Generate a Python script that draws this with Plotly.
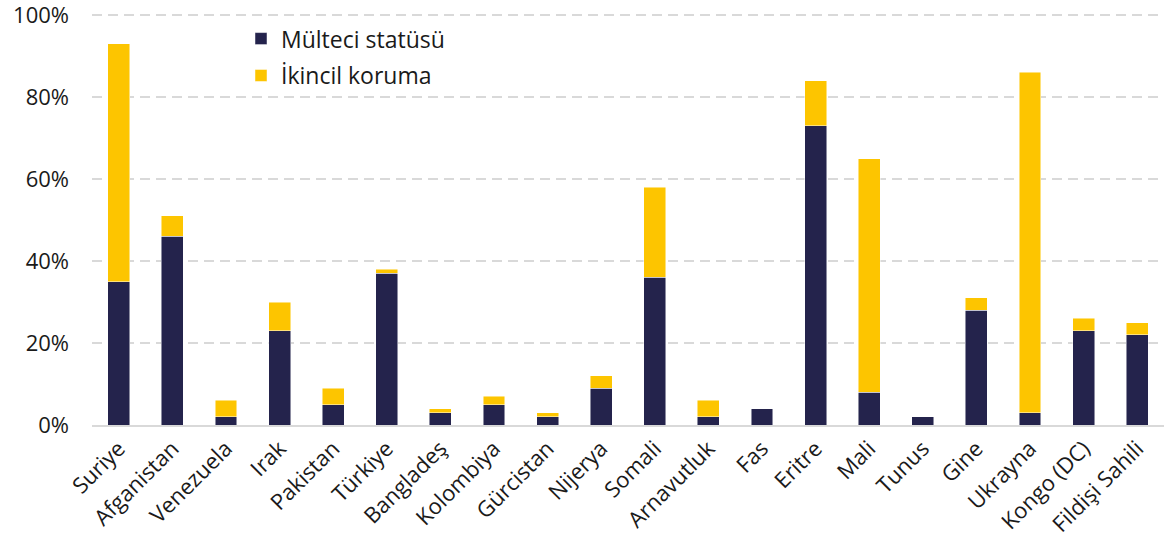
import plotly.graph_objects as go

countries = ["Suriye", "Afganistan", "Venezuela", "Irak", "Pakistan", "Türkiye",
             "Bangladeş", "Kolombiya", "Gürcistan", "Nijerya", "Somali", "Arnavutluk",
             "Fas", "Eritre", "Mali", "Tunus", "Gine", "Ukrayna", "Kongo (DC)", "Fildişi Sahili"]
refugee = [35, 46, 2, 23, 5, 37, 3, 5, 2, 9, 36, 2, 4, 73, 8, 2, 28, 3, 23, 22]
subsidiary = [58, 5, 4, 7, 4, 1, 1, 2, 1, 3, 22, 4, 0, 11, 57, 0, 3, 83, 3, 3]
y_ticks = [0, 20, 40, 60, 80, 100]
y_labels = [f"{v}%" for v in y_ticks]

FONT = "Open Sans"
fig = go.Figure()
fig.add_trace(go.Bar(x=countries, y=refugee, name="Mülteci statüsü", legendgroup="a",
                     marker=dict(color="#24234c", line=dict(color="rgba(255,255,255,0.6)", width=0.8))))
fig.add_trace(go.Bar(x=countries, y=subsidiary, name="İkincil koruma", legendgroup="b",
                     marker=dict(color="#fdc500", line=dict(color="rgba(255,255,255,0.6)", width=0.8))))

fig.update_layout(
    barmode="stack",
    bargap=0.59,
    width=1164, height=547,
    margin=dict(l=92, r=0, t=13, b=122, autoexpand=False),
    paper_bgcolor="white", plot_bgcolor="white",
    font=dict(family=FONT, size=22, color="#1a1a1a"),
    showlegend=True,
    legend=dict(x=0.139, y=0.99, xanchor="left", yanchor="top", font=dict(size=23),
                traceorder="grouped", itemwidth=30, tracegroupgap=4, bgcolor="rgba(0,0,0,0)"),
    xaxis=dict(tickangle=-45, showgrid=False, showline=True, linecolor="#d9d9d9", linewidth=2,
               ticks="", tickfont=dict(size=22), automargin=False),
    yaxis=dict(range=[0, 100.5], tickvals=y_ticks, ticktext=y_labels, showgrid=True, gridcolor="#d9d9d9",
               griddash="10px,6px", gridwidth=2, zeroline=False, showline=False, ticks="",
               tickfont=dict(size=22), ticklabelstandoff=22, automargin=False,
               ticklabeloverflow="allow"),
)
fig.write_html("out.html", config={"displayModeBar": False},
               post_script="document.body.style.margin='0';document.body.style.overflow='hidden';")
